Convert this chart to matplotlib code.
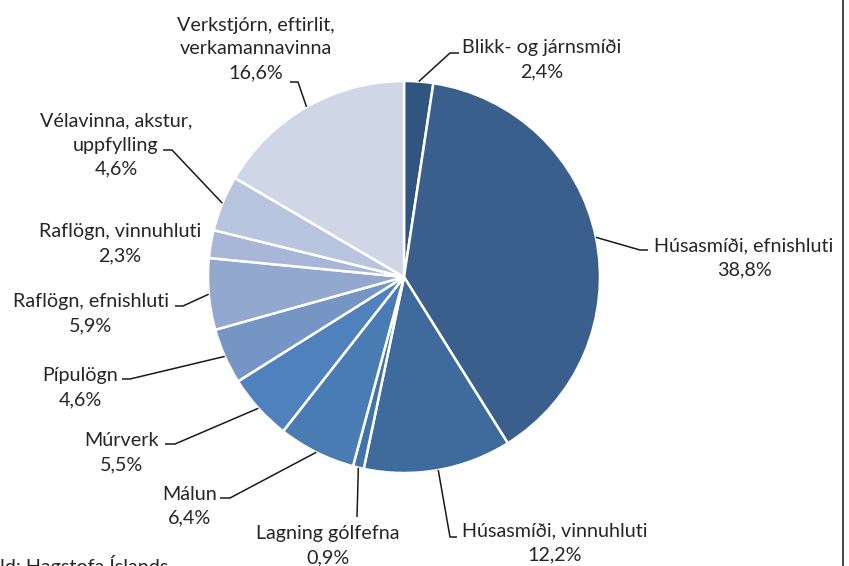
import matplotlib
matplotlib.use('Agg')
import matplotlib.pyplot as plt
import numpy as np

plt.rcParams['font.family'] = ['Lato', 'DejaVu Sans']

# Skipting kostnaðar (%)
labels = ['Blikk- og járnsmíði', 'Húsasmíði, efnishluti', 'Húsasmíði, vinnuhluti',
          'Lagning gólfefna', 'Málun', 'Múrverk', 'Pípulögn', 'Raflögn, efnishluti',
          'Raflögn, vinnuhluti', 'Vélavinna, akstur,\nuppfylling',
          'Verkstjórn, eftirlit,\nverkamannavinna']
values = [2.4, 38.8, 12.2, 0.9, 6.4, 5.5, 4.6, 5.9, 2.3, 4.6, 16.6]
colors = ['#30557f', '#3a5f8d', '#3e6b9c', '#4272aa', '#4a7cb4', '#4f81bd',
          '#7596c5', '#93a8cf', '#a8b7d8', '#b9c5df', '#cfd6e6']

# staðsetning texta (x, y miðja) og brotpunktar leiðarlína
label_pos = [(542, 60), (744, 258), (555, 543), (328, 546), (190, 506), (122, 453),
             (80, 388), (91, 314), (120, 244), (116, 145), (256, 49)]
elbows = [((450, 53), (459, 53)), ((640, 250), (648, 250)), ((450, 537), (457, 537)),
          ((357, 517), (357, 517)), ((230, 498), (220, 498)), ((175, 444), (165, 444)),
          ((130, 379), (122, 379)), ((183, 306), (175, 306)), None,
          ((172, 150), (163, 150)), ((298, 82), (290, 82))]

cx, cy, r = 404, 277, 196

fig = plt.figure(figsize=(8.49, 5.66), dpi=100)
ax = fig.add_axes([0, 0, 1, 1])
ax.set_ylim(566, 0)

wedges, _ = ax.pie(values, colors=colors, startangle=-90, counterclock=True,
                   center=(cx, cy), radius=r,
                   wedgeprops=dict(edgecolor='white', linewidth=1.8))
ax.set_xlim(0, 849)
ax.set_ylim(566, 0)
ax.set_aspect('equal')
ax.axis('off')

for w, lab, v, pos, el in zip(wedges, labels, values, label_pos, elbows):
    ang = np.deg2rad((w.theta1 + w.theta2) / 2)
    px, py = cx + r * np.cos(ang), cy + r * np.sin(ang)
    if el is not None:
        ax.plot([px, el[0][0], el[1][0]], [py, el[0][1], el[1][1]],
                color='#1a1a1a', lw=1.1, solid_capstyle='butt', zorder=3)
    txt = lab + '\n' + f'{v:.1f}'.replace('.', ',') + '%'
    ax.text(pos[0], pos[1], txt, ha='center', va='center', multialignment='center',
            fontsize=14.2, color='#262626', linespacing=1.5)

ax.text(0, 555, 'ld: Hagstofa Íslands', ha='left', va='top', fontsize=14.2, color='#262626')
ax.plot([843, 843], [0, 566], color='#262626', lw=1.2, clip_on=False)

fig.savefig('out.png', dpi=100)
